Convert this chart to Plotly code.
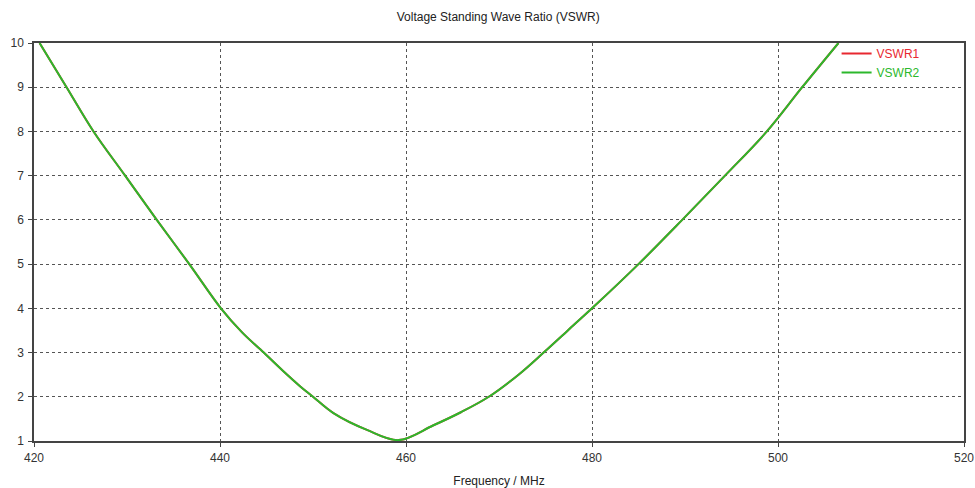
import plotly.graph_objects as go

# Data (frequency in MHz, VSWR)
freq = [420.6, 423.5, 426.4, 429.8, 433.2, 436.7, 440.1, 442.4, 444.7,
        446.7, 448.6, 450.0, 452.2, 455.8, 459.2, 462.9, 465.9, 468.9, 472.1,
        474.8, 477.4, 480.0, 485.0, 489.7, 494.3, 498.8, 502.6, 506.5]
vswr = [10.0, 9.0, 8.0, 7.0, 6.0, 5.0, 4.0, 3.45, 3.0,
        2.6, 2.24, 2.0, 1.63, 1.25, 1.02, 1.35, 1.65, 2.0, 2.5,
        3.0, 3.5, 4.0, 5.0, 6.0, 7.0, 8.0, 9.0, 10.0]

x_ticks = [420, 440, 460, 480, 500, 520]
y_ticks = [1, 2, 3, 4, 5, 6, 7, 8, 9, 10]

red = "rgb(232,40,48)"
green = "rgb(44,184,44)"
font = "Liberation Sans, Arial, sans-serif"

fig = go.Figure()
fig.add_trace(go.Scatter(x=freq, y=vswr, mode="lines",
                         name="<span style='color:%s'>VSWR1</span>" % red,
                         line=dict(color=red, width=2, shape="spline", smoothing=1.0)))
fig.add_trace(go.Scatter(x=freq, y=vswr, mode="lines",
                         name="<span style='color:%s'>VSWR2</span>" % green,
                         line=dict(color=green, width=2, shape="spline", smoothing=1.0)))

axis_common = dict(
    showline=True, linecolor="#444", linewidth=1.5, mirror=True,
    showgrid=True, gridcolor="#555", griddash="dot", gridwidth=1,
    ticks="outside", ticklen=4, tickcolor="#444",
    tickfont=dict(family=font, size=12, color="#333"),
    zeroline=False, automargin=False,
)

fig.update_layout(
    width=975, height=488, autosize=False,
    margin=dict(l=34, r=11, t=43, b=47),
    paper_bgcolor="white", plot_bgcolor="white",
    title=dict(text="Voltage Standing Wave Ratio (VSWR)", x=0.511, xanchor="center",
               y=0.965, yanchor="middle",
               font=dict(family=font, size=12, color="#222")),
    xaxis=dict(range=[420, 520], tickvals=x_ticks, ticklabelstandoff=1,
               title=dict(text="Frequency / MHz", standoff=15,
                          font=dict(family=font, size=12, color="#222")),
               **axis_common),
    yaxis=dict(range=[1, 10], tickvals=y_ticks, ticklabelstandoff=2, **axis_common),
    legend=dict(x=0.863, y=1.01, xanchor="left", yanchor="top",
                bgcolor="rgba(0,0,0,0)", borderwidth=0,
                font=dict(family=font, size=12), tracegroupgap=0),
    showlegend=True,
)

fig.write_html("out.html", config={"displayModeBar": False},
               post_script="document.body.style.margin='0';")
